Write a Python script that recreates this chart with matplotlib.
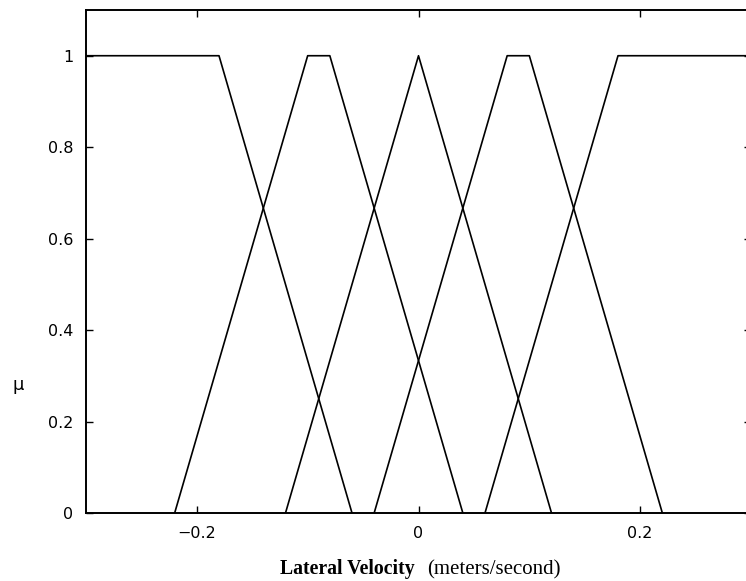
import matplotlib.pyplot as plt

# membership function breakpoints (x) and degrees (mu)
mf_x = [
    [-0.30, -0.18, -0.06],
    [-0.22, -0.10, -0.08, 0.04],
    [-0.12, 0.00, 0.12],
    [-0.04, 0.08, 0.10, 0.22],
    [0.06, 0.18, 0.30],
]
mf_mu = [
    [1, 1, 0],
    [0, 1, 1, 0],
    [0, 1, 0],
    [0, 1, 1, 0],
    [0, 1, 1],
]

x_ticks = [-0.2, 0, 0.2]
x_ticklabels = ["\u22120.2", "0", "0.2"]
y_ticks = [0, 0.2, 0.4, 0.6, 0.8, 1]
y_ticklabels = ["0", "0.2", "0.4", "0.6", "0.8", "1"]

fig = plt.figure(figsize=(7.46, 5.81), dpi=100)
ax = fig.add_axes([86 / 746, 1 - 513 / 581, (751 - 86) / 746, (513 - 10) / 581])

for xs, ys in zip(mf_x, mf_mu):
    ax.plot(xs, ys, color="black", lw=1.2)

ax.set_xlim(-0.3, 0.3)
ax.set_ylim(0, 1.1)
ax.set_xticks(x_ticks)
ax.set_xticklabels(x_ticklabels)
ax.set_yticks(y_ticks)
ax.set_yticklabels(y_ticklabels)
ax.tick_params(direction="in", top=True, right=True, length=5, width=1,
               labelsize=11.5, pad=9)
for sp in ax.spines.values():
    sp.set_linewidth(1.4)

fig.text(18 / 746, 1 - 385 / 581, "\u03bc", fontsize=13, ha="center", va="center",
         family="DejaVu Sans")
fig.text(415 / 746, 1 - 574 / 581, "Lateral Velocity", fontsize=14.2,
         weight="bold", family="Liberation Serif", ha="right", va="baseline")
fig.text(427 / 746, 1 - 574 / 581, "(meters/second)", fontsize=15,
         family="Liberation Serif", ha="left", va="baseline")

fig.savefig("out.png", dpi=100, facecolor="white")
